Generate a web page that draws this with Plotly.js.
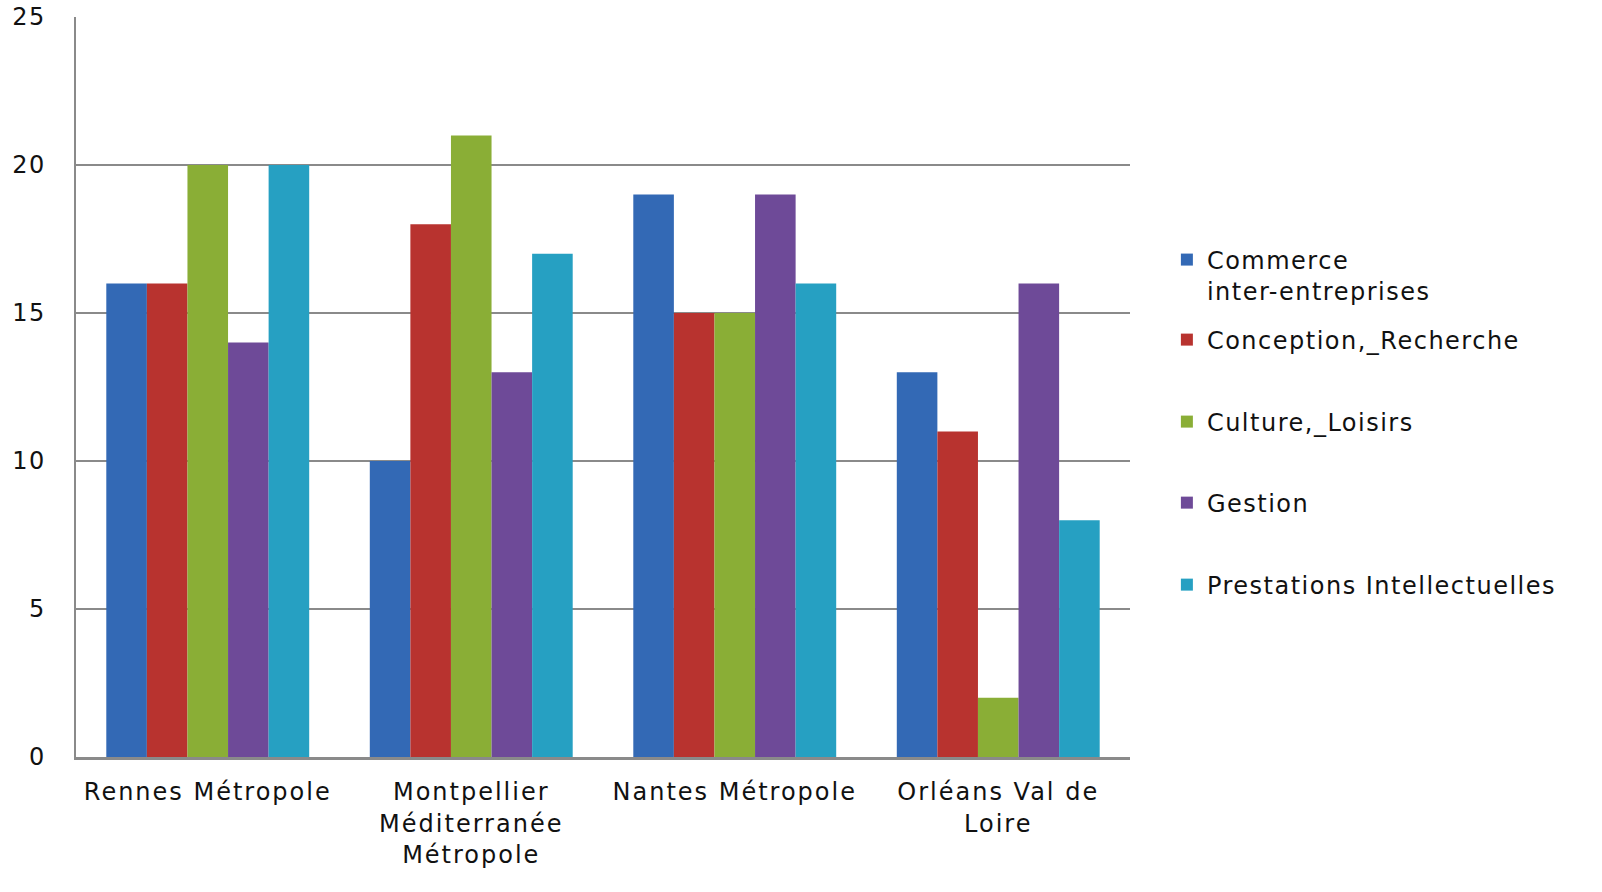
<!DOCTYPE html>
<html>
<head>
<meta charset="utf-8">
<script src="https://cdn.plot.ly/plotly-3.0.1.min.js"></script>
<style>
html,body{margin:0;padding:0;background:#fff;}
#chart{width:1602px;height:892px;}
#chart .xtick text{letter-spacing:2px;}
#chart .ytick text{letter-spacing:1.5px;}
#chart g[class^="legend"] text{letter-spacing:1.5px;}
#chart g[class^="legend"] .scrollbox{clip-path:none !important;}
</style>
</head>
<body>
<div id="chart"></div>
<script>
const categories = ["Rennes Métropole", "Montpellier Méditerranée Métropole", "Nantes Métropole", "Orléans Val de Loire"];
const tickLabels = ["Rennes Métropole", "Montpellier<br>Méditerranée<br>Métropole", "Nantes Métropole", "Orléans Val de<br>Loire"];
const seriesNames = ["Commerce<br>inter-entreprises", "Conception,_Recherche", "Culture,_Loisirs", "Gestion", "Prestations Intellectuelles"];
const commerce = [16, 10, 19, 13];
const conception = [16, 18, 15, 11];
const culture = [20, 21, 15, 2];
const gestion = [14, 13, 19, 16];
const prestations = [20, 17, 16, 8];
const yTicks = [0, 5, 10, 15, 20, 25];

const seriesValues = [commerce, conception, culture, gestion, prestations];
const colors = ["#3369b5", "#b8332f", "#8aae36", "#6e4a98", "#26a0c2"];
const legendIds = ["legend", "legend2", "legend3", "legend4", "legend5"];
const legendY = [0.6507, 0.5635, 0.4527, 0.3432, 0.2324];

const FONT = "DejaVu Sans, Verdana, sans-serif";
const FS = 24;
const traces = seriesValues.map((vals, i) => ({
  type: "bar",
  name: seriesNames[i],
  x: categories,
  y: vals,
  marker: {color: colors[i], line: {width: 0}},
  legend: legendIds[i],
  hoverinfo: "y+name"
}));

const layout = {
  width: 1602, height: 892,
  margin: {l: 76, r: 472, t: 17, b: 135},
  paper_bgcolor: "#ffffff", plot_bgcolor: "#ffffff",
  barmode: "group", bargap: 0.23, bargroupgap: 0,
  font: {family: FONT, size: FS, color: "#111111"},
  xaxis: {
    type: "category",
    tickvals: categories, ticktext: tickLabels,
    showline: true, linecolor: "#8a8a8a", linewidth: 2.5,
    showgrid: false, ticks: "", ticklabelstandoff: 12,
    tickfont: {family: FONT, size: FS, color: "#111111"}
  },
  yaxis: {
    range: [0, 25], tickvals: yTicks, ticktext: yTicks.map(String),
    showline: true, linecolor: "#8a8a8a", linewidth: 2.5,
    showgrid: true, gridcolor: "#8a8a8a", gridwidth: 2.5,
    zeroline: false, ticks: "", ticklabelstandoff: 23,
    tickfont: {family: FONT, size: FS, color: "#111111"}
  },
  showlegend: true
};
legendIds.forEach((id, i) => {
  layout[id] = {
    x: 1.035, xanchor: "left", y: legendY[i], yanchor: "middle",
    valign: "top", bgcolor: "rgba(0,0,0,0)",
    font: {family: FONT, size: FS, color: "#111111"}
  };
});

Plotly.newPlot("chart", traces, layout, {displayModeBar: false, staticPlot: true});
</script>
</body>
</html>
